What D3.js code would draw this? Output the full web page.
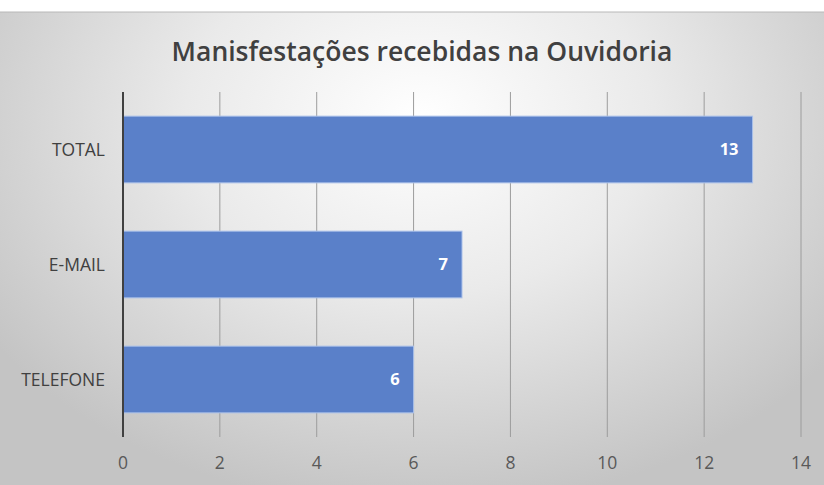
<!DOCTYPE html>
<html><head><meta charset="utf-8">
<script src="https://cdn.jsdelivr.net/npm/d3@7"></script>
<style>body{margin:0;background:#fff}svg{display:block}</style>
</head><body>
<script>
const categories = ["TOTAL", "E-MAIL", "TELEFONE"];
const values = [13, 7, 6];
const xTicks = [0, 2, 4, 6, 8, 10, 12, 14];
const title = "Manisfestações recebidas na Ouvidoria";

const W = 824, H = 485;
const svg = d3.select("body").append("svg").attr("width", W).attr("height", H);
const defs = svg.append("defs");
const rg = defs.append("radialGradient").attr("id", "bg")
  .attr("gradientUnits", "userSpaceOnUse")
  .attr("cx", 420).attr("cy", 120).attr("r", 520)
  .attr("gradientTransform", "translate(420,120) scale(1,0.75) translate(-420,-120)");
rg.append("stop").attr("offset", "0").attr("stop-color", "#ffffff");
rg.append("stop").attr("offset", "0.45").attr("stop-color", "#eaeaea");
rg.append("stop").attr("offset", "1").attr("stop-color", "#c4c4c4");

svg.append("rect").attr("width", W).attr("height", H).attr("fill", "#fff");
svg.append("rect").attr("x", 0).attr("y", 12).attr("width", W).attr("height", H - 12).attr("fill", "url(#bg)");
svg.append("line").attr("x1", 0).attr("x2", W).attr("y1", 12).attr("y2", 12).attr("stroke", "#b8b8b8").attr("stroke-width", 1);

const x = d3.scaleLinear().domain([0, 14]).range([123, 801]);
const y = d3.scaleBand().domain(categories).range([92, 437]).paddingInner(0.42).paddingOuter(0.21);

// gridlines
svg.append("g").selectAll("line").data(xTicks.filter(d => d > 0)).join("line")
  .attr("x1", d => x(d)).attr("x2", d => x(d))
  .attr("y1", 92).attr("y2", 437)
  .attr("stroke", "#9c9c9c").attr("stroke-width", 1);

// bars
svg.append("g").selectAll("rect").data(values).join("rect")
  .attr("x", x(0)).attr("y", (d, i) => y(categories[i]))
  .attr("width", d => x(d) - x(0)).attr("height", y.bandwidth())
  .attr("fill", "#5a80c9").attr("stroke", "#a9c0ea").attr("stroke-width", 1);

// axis line
svg.append("line").attr("x1", x(0)).attr("x2", x(0)).attr("y1", 92).attr("y2", 437)
  .attr("stroke", "#404040").attr("stroke-width", 2);

// value labels
svg.append("g").selectAll("text").data(values).join("text")
  .attr("x", d => x(d) - 14).attr("y", (d, i) => y(categories[i]) + y.bandwidth() / 2)
  .attr("dy", "0.36em").attr("text-anchor", "end")
  .attr("font-family", "Open Sans, sans-serif").attr("font-weight", 700).attr("font-size", 16.5)
  .attr("fill", "#ffffff").text(d => d);

// category labels
svg.append("g").selectAll("text").data(categories).join("text")
  .attr("x", 105).attr("y", d => y(d) + y.bandwidth() / 2)
  .attr("dy", "0.36em").attr("text-anchor", "end")
  .attr("font-family", "Open Sans, sans-serif").attr("font-size", 17.5)
  .attr("fill", "#404040").text(d => d);

// x tick labels
svg.append("g").selectAll("text").data(xTicks).join("text")
  .attr("x", d => x(d)).attr("y", 463).attr("dy", "0.36em").attr("text-anchor", "middle")
  .attr("font-family", "Open Sans, sans-serif").attr("font-size", 17.5)
  .attr("fill", "#595959").text(d => d);

// title
svg.append("text").attr("x", 422).attr("y", 61).attr("text-anchor", "middle")
  .attr("font-family", "Open Sans, sans-serif").attr("font-weight", 600).attr("font-size", 26.5)
  .attr("fill", "#404040").text(title);
</script>
</body></html>
